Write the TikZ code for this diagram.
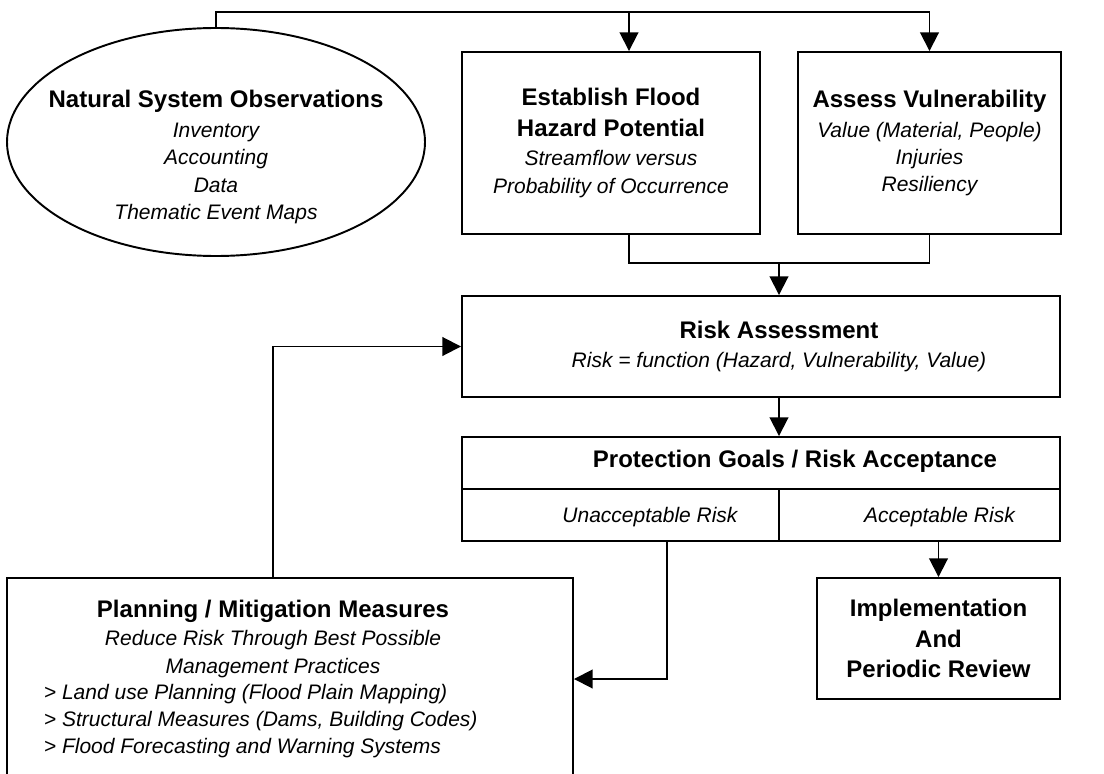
\documentclass[tikz,border=0pt]{standalone}
\usepackage{fontspec}
\setmainfont{Liberation Sans}
\usetikzlibrary{arrows.meta,shapes.geometric}

% heading and body fonts
\newcommand{\hdfont}{\fontsize{18}{22.9}\selectfont\upshape\bfseries}
\newcommand{\itfont}{\fontsize{15.75}{20.5}\selectfont\itshape}

\begin{document}
\begin{tikzpicture}[x=0.75pt,y=-0.75pt,
  line width=1.45pt,
  arr/.style={-{Triangle[length=14pt,width=14pt]}},
  box/.style={draw,rectangle,inner sep=0pt},
  txt/.style={align=center,font=\itfont,inner sep=0pt},
  hd/.style={align=center,font=\hdfont,inner sep=0pt}]

\clip (0,0) rectangle (1104,774);
\fill[white] (0,0) rectangle (1104,774);

% observation ellipse
\node[draw,ellipse,minimum width=313.5pt,minimum height=171pt,inner sep=0pt] (obs) at (216,142) {};
\node[txt] (obsT) at (216,157) {{\hdfont Natural System Observations}\\[2pt]
  Inventory\\ Accounting\\ Data\\ Thematic Event Maps};

% hazard and vulnerability
\node[box,txt,minimum width=223.5pt,minimum height=136.5pt] (est) at (611,143)
  {{\hdfont Establish Flood}\\[2.6pt]{\hdfont Hazard Potential}\\[1.2pt]
   Streamflow versus\\ Probability of Occurrence};
\node[box,txt,minimum width=197.25pt,minimum height=136.5pt] (vul) at (929.5,143)
  {{\hdfont Assess Vulnerability}\\[2pt] Value (Material, People)\\ Injuries\\ Resiliency};

% risk assessment
\node[box,minimum width=448.5pt,minimum height=75.75pt] (risk) at (761,346.5) {};
\node[txt] (riskT) at (779,346.5) {{\hdfont Risk Assessment}\\[1.2pt]
  Risk = function (Hazard, Vulnerability, Value)};

% protection goals table
\node[box,minimum width=448.5pt,minimum height=39pt] (prot) at (761,463) {};
\node[hd] (protT) at (795,461) {Protection Goals / Risk Acceptance};
\node[box,minimum width=237.75pt,minimum height=39pt] (unacc) at (620.5,515) {};
\node[txt] (unaccT) at (650,517) {Unacceptable Risk};
\node[box,minimum width=210.75pt,minimum height=39pt] (acc) at (919.5,515) {};
\node[txt] (accT) at (939.5,517) {Acceptable Risk};

% implementation
\node[box,hd,minimum width=182.25pt,minimum height=90.75pt] (impl) at (938.5,638.5)
  {Implementation\\ And\\ Periodic Review};

% planning / mitigation
\node[box,minimum width=424.5pt,minimum height=166.5pt] (plan) at (290,689) {};
\node[txt] (planT) at (273,639) {{\hdfont Planning / Mitigation Measures}\\[0.6pt]
  Reduce Risk Through Best Possible\\ Management Practices};
\node[txt,align=left,anchor=west] (planL) at (43,721)
  {> Land use Planning (Flood Plain Mapping)\\
   > Structural Measures (Dams, Building Codes)\\
   > Flood Forecasting and Warning Systems};

% connector junctions
\coordinate (top) at (629,12);
\coordinate (join) at (779,263);
\coordinate (rej) at (667,679);
\coordinate (back) at (273,347);

\draw (obs.north) |- (top);
\draw[arr] (obs.north |- top) -| (vul.north);
\draw[arr] (top) -- (top |- est.north);
\draw (top |- est.south) |- (join);
\draw (vul.south) |- (join);
\draw[arr] (join) -- (join |- risk.north);
\draw[arr] (join |- risk.south) -- (join |- prot.north);
\draw[arr] (rej |- unacc.south) |- (plan.east |- rej);
\draw[arr] (impl.north |- acc.south) -- (impl.north);
\draw[arr] (back |- plan.north) |- (risk.west);

\end{tikzpicture}
\end{document}
